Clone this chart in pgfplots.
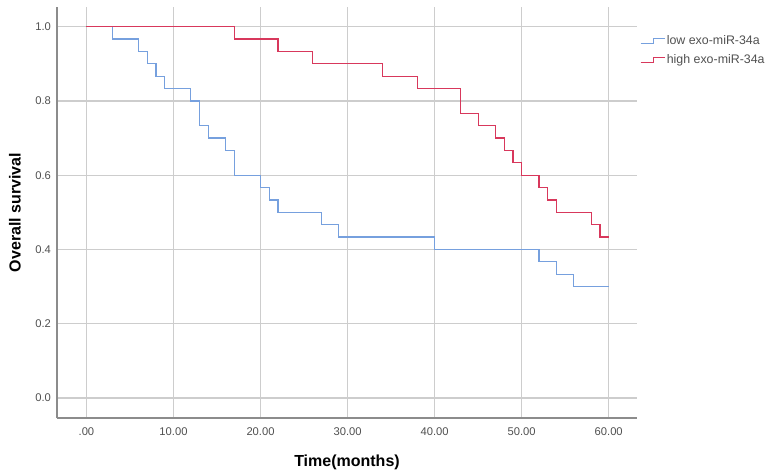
\documentclass[border=0pt]{standalone}
\usepackage{pgfplots}
\pgfplotsset{compat=1.18}
\usepackage{fontspec}
\setmainfont{Liberation Sans}
\definecolor{lowc}{RGB}{118,160,222}
\definecolor{highc}{RGB}{216,56,92}
\definecolor{gridc}{RGB}{205,205,205}
\definecolor{axc}{RGB}{140,140,140}
\definecolor{tickc}{RGB}{80,80,80}
\begin{document}
\begin{tikzpicture}
\path[use as bounding box] (0,0) rectangle (579pt,-356.25pt);
\begin{axis}[
  at={(42.75pt,-5.25pt)}, anchor=north west,
  scale only axis, width=435pt, height=308.25pt,
  xmin=-3.38, xmax=63.25, ymin=-0.054, ymax=1.053,
  axis x line*=bottom, axis y line*=left,
  axis line style={draw=axc, line width=0.9pt, -},
  xtick={0,10,20,30,40,50,60},
  xticklabels={.00,10.00,20.00,30.00,40.00,50.00,60.00},
  ytick={0,0.2,0.4,0.6,0.8,1.0},
  yticklabels={0.0,0.2,0.4,0.6,0.8,1.0},
  major tick length=0pt,
  grid=major, major grid style={draw=gridc, line width=0.9pt},
  tick label style={font=\fontsize{8.4}{9}\selectfont, text=tickc},
  xticklabel style={yshift=-4pt},
  yticklabel style={xshift=-1pt},
  xlabel={\textbf{Time(months)}},
  ylabel={\textbf{Overall survival}},
  label style={font=\fontsize{12}{14}\selectfont, text=black},
  xlabel style={yshift=-7.5pt},
  ylabel style={yshift=4pt},
  legend style={at={(rel axis cs:0.998,0.94)}, anchor=north west, draw=none, fill=none,
    font=\fontsize{9.3}{11}\selectfont, text=tickc, row sep=4.8pt,
    nodes={inner sep=0.6pt},
    /tikz/every even column/.append style={column sep=0pt}},
  legend cell align=left,
  legend image code/.code={\draw[#1] (0pt,-1.8pt) -- (9.5pt,-1.8pt) -- (9.5pt,2pt) -- (18.5pt,2pt);},
]
\addplot[const plot, color=lowc, line width=0.9pt] coordinates {
(0,1) (3,0.9667) (6,0.9333) (7,0.9) (8,0.8667) (9,0.8333) (12,0.8) (13,0.7333) (14,0.7) (16,0.6667) (17,0.6) (20,0.5667) (21,0.5333) (22,0.5) (27,0.4667) (29,0.4333) (40,0.4) (52,0.3667) (54,0.3333) (56,0.3) (60,0.3)
};
\addlegendentry{low exo-miR-34a}
\addplot[const plot, color=highc, line width=0.9pt] coordinates {
(0,1) (17,0.9667) (22,0.9333) (26,0.9) (34,0.8667) (38,0.8333) (43,0.7667) (45,0.7333) (47,0.7) (48,0.6667) (49,0.6333) (50,0.6) (52,0.5667) (53,0.5333) (54,0.5) (58,0.4667) (59,0.4333) (60,0.4333)
};
\addlegendentry{high exo-miR-34a}
\end{axis}
\end{tikzpicture}
\end{document}
